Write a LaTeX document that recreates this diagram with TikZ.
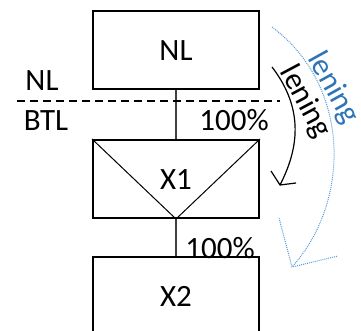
\documentclass[tikz,border=0pt]{standalone}
\usepackage{fontspec}
\setmainfont{Carlito}
\begin{document}
\begin{tikzpicture}[x=1pt,y=-1pt,
  font=\fontsize{31}{37}\selectfont,
  box/.style={draw=black,line width=2pt,minimum width=166pt,minimum height=78pt,inner sep=0pt},
  link/.style={draw=black!75,line width=1.2pt},
  lbl/.style={inner sep=0pt},
  dotline/.style={draw=dotblue,line width=1pt,dash pattern=on 1pt off 1pt},
]
\definecolor{tickblue}{RGB}{46,117,182}
\definecolor{dotblue}{RGB}{91,155,213}
\useasboundingbox (0,0) rectangle (361,331);

% boxes
\node[box] (nl) at (176,50.5) {NL};
\node[box] (x1) at (176,179) {};
\node[lbl] (x1t) at (176,180) {X1};
\node[box] (x2) at (176,296) {X2};

% cross lines inside X1
\draw[line width=1pt] (x1.north west) -- (x1.south) -- (x1.north east);

% connectors
\draw[link] (nl.south) -- (x1.north);
\draw[link] (x1.south) -- (x2.north);

% NL / BTL boundary
\coordinate (dl) at (17,101.5);
\coordinate (dr) at (280,101.5);
\draw[line width=2pt,dash pattern=on 8pt off 5pt] (dl) -- (dr);
\node[lbl] (tnl) at (42,81) {NL};
\node[lbl] (tbtl) at (46,121) {BTL};

% percentages
\node[lbl] (p1) at (234,120) {100\%};
\node[lbl] (p2) at (220,248.5) {100\%};

% black arrow
\coordinate (ba) at (272,67);
\coordinate (bb) at (280,185);
\coordinate (bl) at (271,171);
\coordinate (br) at (296,183);
\draw[line width=1.2pt] (ba) .. controls (305,110) and (298,150) .. (bb);
\draw[line width=1.2pt] (bl) -- (bb) -- (br);
\node[lbl,rotate=-62] (bt) at (305,102) {lening};

% blue dotted arrow
\coordinate (ua) at (272,27);
\coordinate (ub) at (292,267);
\coordinate (ul) at (279,218);
\coordinate (ur) at (338,256);
\draw[dotline] (ua) .. controls (350,85) and (352,200) .. (ub);
\draw[dotline] (ul) -- (ub) -- (ur);
\node[lbl,rotate=-61,text=tickblue] (ut) at (333,88) {lening};
\end{tikzpicture}
\end{document}
